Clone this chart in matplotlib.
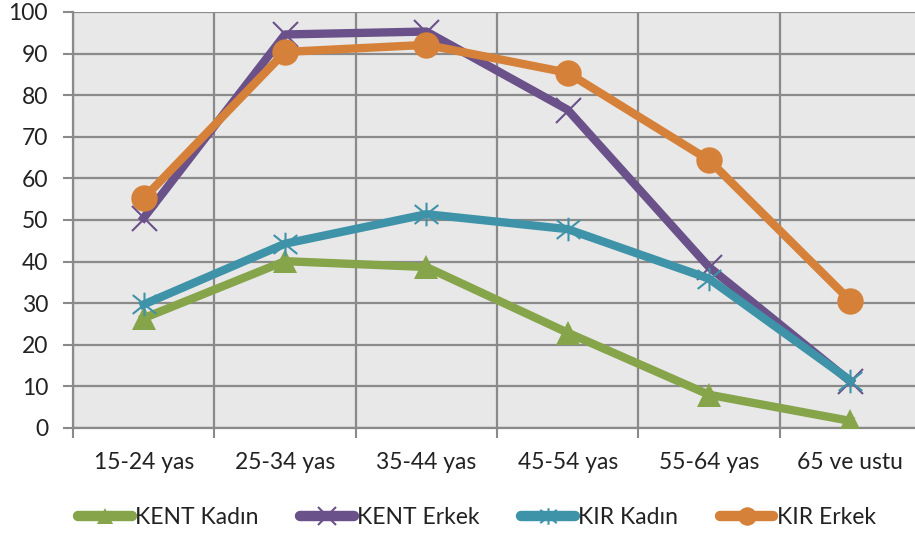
import matplotlib
matplotlib.use("Agg")
import matplotlib.pyplot as plt
from matplotlib.path import Path
from matplotlib.lines import Line2D

categories = ["15-24 yas", "25-34 yas", "35-44 yas", "45-54 yas", "55-64 yas", "65 ve ustu"]
kent_kadin = [26.4, 40.1, 38.7, 22.9, 8.0, 1.7]
kent_erkek = [50.5, 94.6, 95.3, 76.5, 38.7, 11.2]
kir_kadin = [29.7, 44.3, 51.4, 47.8, 35.9, 11.4]
kir_erkek = [55.2, 90.4, 92.1, 85.4, 64.4, 30.6]
series_names = ["KENT Kadın", "KENT Erkek", "KIR Kadın", "KIR Erkek"]
yticks = [0, 10, 20, 30, 40, 50, 60, 70, 80, 90, 100]

plt.rcParams['font.family'] = ['Lato', 'DejaVu Sans']
FS = 16.5
TXT = '#222222'
GRID = '#8A8A8A'

star = Path([(-1, -0.8), (1, 0.8), (-1, 0.8), (1, -0.8), (0, -1), (0, 1)],
            [Path.MOVETO, Path.LINETO, Path.MOVETO, Path.LINETO, Path.MOVETO, Path.LINETO])

styles = [
    dict(color='#86A44A', marker='^', ms=17, mew=0),
    dict(color='#6A518A', marker='x', ms=18, mew=1.5),
    dict(color='#3E93A9', marker=star, ms=17, mew=1.5),
    dict(color='#D68139', marker='o', ms=19, mew=0),
]
data = [kent_kadin, kent_erkek, kir_kadin, kir_erkek]

fig = plt.figure(figsize=(9.15, 5.35), dpi=100)
ax = fig.add_axes([73/915, 107/535, 848/915, 416/535])
ax.set_facecolor('#E8E8E8')

x = list(range(len(categories)))
for i, (vals, st) in enumerate(zip(data, styles)):
    ax.plot(x, vals, lw=6, label=series_names[i], zorder=3 + i, **st)

ax.set_xlim(-0.5, 5.5)
ax.set_ylim(0, 100)
ax.set_yticks(yticks)
ax.set_yticklabels([str(v) for v in yticks], fontsize=FS, color=TXT)
ax.set_xticks(x)
ax.set_xticklabels(categories, fontsize=FS, color=TXT)
ax.set_xticks([i + 0.5 for i in range(-1, 6)], minor=True)
ax.tick_params(axis='x', which='major', length=0, pad=17)
ax.tick_params(axis='x', which='minor', length=7, color=GRID, width=1.5)
ax.tick_params(axis='y', length=7, color=GRID, width=1.5, pad=11)

ax.grid(True, axis='y', which='major', color=GRID, lw=1.6, zorder=1)
ax.grid(True, axis='x', which='minor', color=GRID, lw=1.6, zorder=1)
ax.set_axisbelow(True)
for s in ['top', 'right']:
    ax.spines[s].set_visible(False)
for s in ['left', 'bottom']:
    ax.spines[s].set_color(GRID)
    ax.spines[s].set_linewidth(1.6)

handles = []
for st in styles:
    h = Line2D([], [], lw=7.5, solid_capstyle='round', color=st['color'], marker=st['marker'],
               ms=st['ms'] * 0.7, mew=st['mew'])
    handles.append(h)

leg = fig.legend(handles, series_names, loc='center left', bbox_to_anchor=(78/915, 17/535),
                 ncol=4, frameon=False, fontsize=FS, handlelength=2.35, handletextpad=0.15,
                 columnspacing=1.8, numpoints=1, borderpad=0, borderaxespad=0)
for t in leg.get_texts():
    t.set_color(TXT)

fig.savefig('out.png', dpi=100)
